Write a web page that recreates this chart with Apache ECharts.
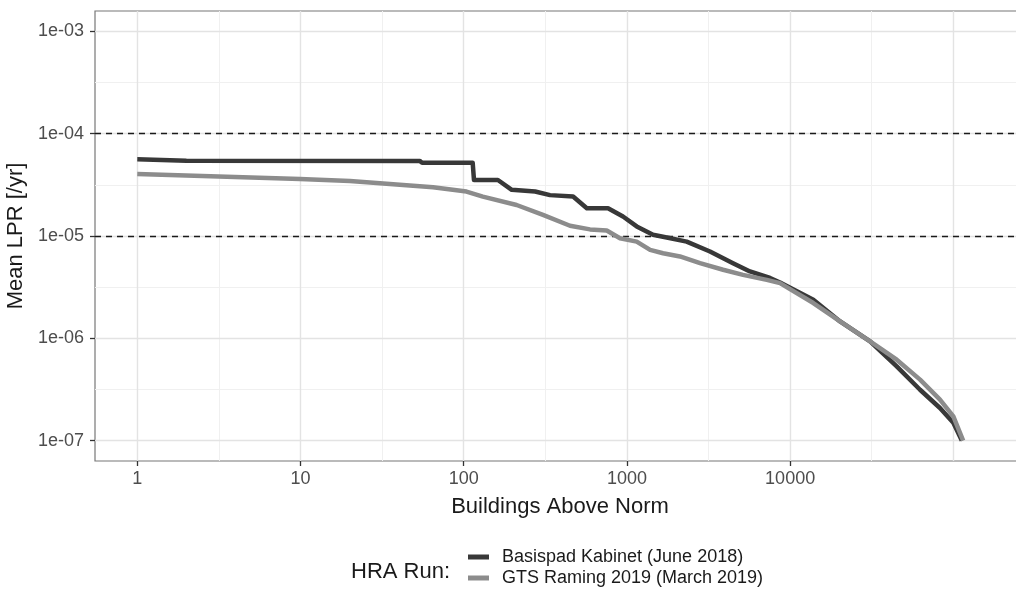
<!DOCTYPE html>
<html>
<head>
<meta charset="utf-8">
<script src="https://cdn.jsdelivr.net/npm/echarts@6/dist/echarts.min.js"></script>
<style>
  html, body { margin: 0; padding: 0; background: #ffffff; }
  #chart { width: 1016px; height: 598px; }
</style>
</head>
<body>
<div id="chart"></div>
<script>
// ---- data ----
const seriesNames = ['Basispad Kabinet (June 2018)', 'GTS Raming 2019 (March 2019)'];

const buildingsBasispad = [1, 2, 54, 55.6, 113.5, 115.6, 162, 197, 274, 338, 468, 568, 766, 946, 1148, 1445, 1754, 2323, 3228, 4467, 5675, 7534, 8670, 13870, 20230, 30900, 44980, 62520, 82790, 100000, 112700];
const lprBasispad = [5.62e-5, 5.45e-5, 5.40e-5, 5.21e-5, 5.21e-5, 3.53e-5, 3.53e-5, 2.83e-5, 2.72e-5, 2.51e-5, 2.43e-5, 1.87e-5, 1.87e-5, 1.55e-5, 1.24e-5, 1.03e-5, 9.66e-6, 8.81e-6, 7.05e-6, 5.42e-6, 4.50e-6, 3.89e-6, 3.51e-6, 2.38e-6, 1.46e-6, 9.31e-7, 5.31e-7, 3.14e-7, 2.08e-7, 1.49e-7, 1.0e-7];

const buildingsGTS = [1, 9.93, 20.1, 64.9, 104, 131, 211, 306, 448, 594, 752, 907, 1148, 1387, 1665, 2113, 2805, 3882, 5143, 7194, 8670, 13870, 20230, 30900, 44980, 62520, 82790, 100000, 114800];
const lprGTS = [4.04e-5, 3.61e-5, 3.45e-5, 2.99e-5, 2.72e-5, 2.43e-5, 2.01e-5, 1.61e-5, 1.26e-5, 1.16e-5, 1.13e-5, 9.51e-6, 8.81e-6, 7.31e-6, 6.79e-6, 6.31e-6, 5.42e-6, 4.68e-6, 4.17e-6, 3.72e-6, 3.46e-6, 2.21e-6, 1.46e-6, 9.31e-7, 6.17e-7, 3.94e-7, 2.51e-7, 1.72e-7, 1.0e-7];

const xTickValues = [1, 10, 100, 1000, 10000];
const xTickLabels = ['1', '10', '100', '1000', '10000'];
const yTickValues = [1e-7, 1e-6, 1e-5, 1e-4, 1e-3];
const yTickLabels = ['1e-07', '1e-06', '1e-05', '1e-04', '1e-03'];

const xMajorGrid = [1, 10, 100, 1000, 10000, 100000];
const xMinorGrid = [3.1623, 31.623, 316.23, 3162.3, 31623];
const yMajorGrid = [1e-7, 1e-6, 1e-5, 1e-4, 1e-3];
const yMinorGrid = [3.1623e-7, 3.1623e-6, 3.1623e-5, 3.1623e-4];
const refLines = [1e-4, 1e-5];

const xRange = [Math.pow(10, -0.259), Math.pow(10, 5.439)];
const yRange = [Math.pow(10, -7.2), Math.pow(10, -2.8)];

// ---- build ----
function pairs(xs, ys) { return xs.map((x, i) => [x, ys[i]]); }
function labelFor(values, labels, v) {
  for (let i = 0; i < values.length; i++) {
    if (Math.abs(Math.log10(values[i]) - Math.log10(v)) < 1e-6) return labels[i];
  }
  return '';
}
function vLine(v, style) { return [{ coord: [v, yRange[0]], lineStyle: style }, { coord: [v, yRange[1]] }]; }
function hLine(v, style) { return [{ coord: [xRange[0], v], lineStyle: style }, { coord: [xRange[1], v] }]; }

const FONT = "'Liberation Sans', Arial, Helvetica, sans-serif";
const chart = echarts.init(document.getElementById('chart'), null, { renderer: 'canvas' });

const minorStyle = { color: '#f0f0f0', width: 1, type: 'solid' };
const majorStyle = { color: '#e3e3e3', width: 1.4, type: 'solid' };
const refStyle = { color: '#1a1a1a', width: 1.3, type: [6, 5] };

const gridLines = []
  .concat(xMinorGrid.map(v => vLine(v, minorStyle)))
  .concat(yMinorGrid.map(v => hLine(v, minorStyle)))
  .concat(xMajorGrid.map(v => vLine(v, majorStyle)))
  .concat(yMajorGrid.map(v => hLine(v, majorStyle)));

const option = {
  animation: false,
  backgroundColor: '#ffffff',
  title: {
    text: 'HRA Run:',
    left: 351,
    top: 561,
    textStyle: { fontFamily: FONT, fontSize: 22, fontWeight: 'normal', color: '#1a1a1a' },
    padding: 0
  },
  legend: {
    data: seriesNames,
    orient: 'vertical',
    left: 468,
    top: 548,
    itemWidth: 21,
    itemHeight: 5,
    itemGap: 3,
    icon: 'rect',
    padding: 0,
    textStyle: { fontFamily: FONT, fontSize: 18, color: '#1a1a1a', lineHeight: 18, padding: [0, 0, 0, 8] },
    selectedMode: false
  },
  grid: {
    left: 95, right: -9, top: 11, bottom: 137,
    show: true,
    backgroundColor: '#ffffff',
    borderColor: '#777777',
    borderWidth: 1.2,
    containLabel: false,
    outerBoundsMode: 'none'
  },
  xAxis: {
    type: 'log',
    logBase: 10,
    min: xRange[0],
    max: xRange[1],
    name: 'Buildings Above Norm',
    nameLocation: 'middle',
    nameGap: 35,
    nameTextStyle: { fontFamily: FONT, fontSize: 22, color: '#1a1a1a', verticalAlign: 'top' },
    axisLine: { show: false },
    splitLine: { show: false },
    minorSplitLine: { show: false },
    axisTick: { show: true, length: 5, lineStyle: { color: '#333333', width: 1.3 }, customValues: xTickValues },
    axisLabel: {
      show: true, margin: 9, customValues: xTickValues,
      fontFamily: FONT, fontSize: 18, color: '#4d4d4d',
      formatter: v => labelFor(xTickValues, xTickLabels, v)
    }
  },
  yAxis: {
    type: 'log',
    logBase: 10,
    min: yRange[0],
    max: yRange[1],
    name: 'Mean LPR [/yr]',
    nameLocation: 'middle',
    nameGap: 55,
    nameTextStyle: { fontFamily: FONT, fontSize: 22, color: '#1a1a1a' },
    axisLine: { show: false },
    splitLine: { show: false },
    minorSplitLine: { show: false },
    axisTick: { show: true, length: 5, lineStyle: { color: '#333333', width: 1.3 }, customValues: yTickValues },
    axisLabel: {
      show: true, margin: 11, customValues: yTickValues,
      fontFamily: FONT, fontSize: 18, color: '#4d4d4d',
      formatter: v => labelFor(yTickValues, yTickLabels, v)
    }
  },
  series: [
    {
      name: '_grid',
      type: 'line',
      data: [],
      silent: true,
      z: 1,
      markLine: {
        silent: true, animation: false, symbol: ['none', 'none'], z: 1,
        label: { show: false },
        emphasis: { disabled: true },
        data: gridLines
      }
    },
    {
      name: '_ref',
      type: 'line',
      data: [],
      silent: true,
      z: 1,
      markLine: {
        silent: true, animation: false, symbol: ['none', 'none'], z: 1.5,
        label: { show: false },
        emphasis: { disabled: true },
        lineStyle: refStyle,
        data: refLines.map(v => hLine(v, refStyle))
      }
    },
    {
      name: seriesNames[0],
      type: 'line',
      data: pairs(buildingsBasispad, lprBasispad),
      showSymbol: false,
      symbol: 'none',
      z: 3,
      color: '#383838',
      itemStyle: { color: '#383838' },
      lineStyle: { color: '#383838', width: 4.5, join: 'round' }
    },
    {
      name: seriesNames[1],
      type: 'line',
      data: pairs(buildingsGTS, lprGTS),
      showSymbol: false,
      symbol: 'none',
      z: 4,
      color: '#8c8c8c',
      itemStyle: { color: '#8c8c8c' },
      lineStyle: { color: '#8c8c8c', width: 4.5, join: 'round' }
    }
  ]
};
chart.setOption(option);
</script>
</body>
</html>
